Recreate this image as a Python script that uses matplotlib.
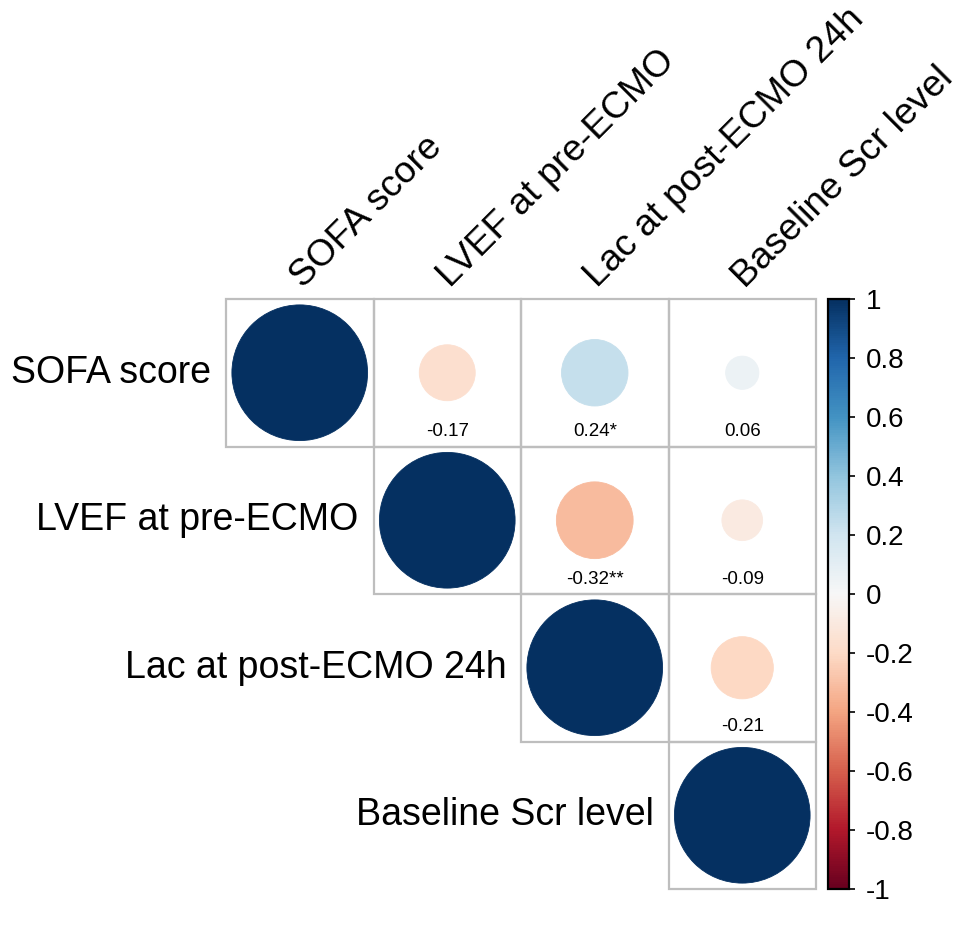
import numpy as np
import matplotlib.pyplot as plt
from matplotlib.patches import Circle, Rectangle
from matplotlib.colors import Normalize
from matplotlib.colorbar import ColorbarBase

plt.rcParams['font.family'] = ['Liberation Sans', 'DejaVu Sans']

variables = ["SOFA score", "LVEF at pre-ECMO", "Lac at post-ECMO 24h", "Baseline Scr level"]
corr = np.array([
    [1.00, -0.17, 0.24, 0.06],
    [-0.17, 1.00, -0.32, -0.09],
    [0.24, -0.32, 1.00, -0.21],
    [0.06, -0.09, -0.21, 1.00],
])
stars = np.array([
    ["", "", "*", ""],
    ["", "", "**", ""],
    ["*", "**", "", ""],
    ["", "", "", ""],
])
cbar_ticks = [1, 0.8, 0.6, 0.4, 0.2, 0, -0.2, -0.4, -0.6, -0.8, -1]

cmap = plt.get_cmap("RdBu")
norm = Normalize(vmin=-1, vmax=1)
n = len(variables)

fig = plt.figure(figsize=(9.74, 9.39), dpi=100)
ax = fig.add_axes([226 / 974, 50 / 939, 590 / 974, 590 / 939])
ax.set_xlim(0, n)
ax.set_ylim(n, 0)
ax.axis("off")

for i in range(n):
    for j in range(i, n):
        ax.add_patch(Rectangle((j, i), 1, 1, fill=False, edgecolor="#bebebe",
                               linewidth=1.6, clip_on=False))
        r = corr[i, j]
        col = cmap(norm(r))
        ax.add_patch(Circle((j + 0.5, i + 0.5), 0.46 * np.sqrt(abs(r)),
                            facecolor=col, edgecolor=col, linewidth=0.6))
        if i != j:
            ax.text(j + 0.5, i + 0.9, f"{r:.2f}{stars[i, j]}", ha="center",
                    va="center", fontsize=13.5)

# row labels
for i, name in enumerate(variables):
    ax.text(i - 0.1, i + 0.5, name, ha="right", va="center", fontsize=27)

# column labels
for j, name in enumerate(variables):
    ax.text(j + 0.52, -0.07, name, ha="left", va="baseline", fontsize=26.8,
            rotation=45, rotation_mode="anchor")

cax = fig.add_axes([828 / 974, 50 / 939, 21 / 974, 590 / 939])
cb = ColorbarBase(cax, cmap=cmap, norm=norm, orientation="vertical")
cb.set_ticks(cbar_ticks)
cb.set_ticklabels([f"{t:g}" for t in cbar_ticks])
cb.outline.set_linewidth(1.6)
cax.tick_params(labelsize=20, length=4, width=1.2, pad=8)

plt.savefig("out.png", dpi=100)
